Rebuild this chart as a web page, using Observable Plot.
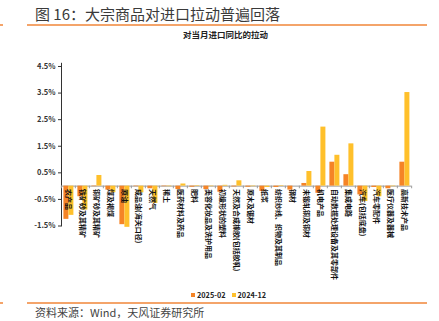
<!DOCTYPE html>
<html><head><meta charset="utf-8">
<script src="https://cdn.jsdelivr.net/npm/d3@7"></script>
<script src="https://cdn.jsdelivr.net/npm/@observablehq/plot@0.6"></script>
<style>
body{margin:0;background:#fff;}
#wrap{position:relative;width:439px;height:321px;overflow:hidden;font-family:"Noto Sans CJK SC","Noto Sans",sans-serif;}
#wrap svg{position:absolute;left:0;top:0;}
.title{position:absolute;left:35px;top:4px;font-size:15px;color:#3a3a3a;line-height:19px;white-space:nowrap;}
.rule{position:absolute;height:2px;background:#F4A46A;}
.sub{position:absolute;left:125.6px;width:200px;top:28px;text-align:center;font-size:8.5px;font-weight:bold;color:#222;line-height:12px;white-space:nowrap;}
.legend{position:absolute;left:191px;top:289px;font-size:7.3px;font-weight:bold;color:#222;line-height:12px;white-space:nowrap;}
.legend i{display:inline-block;width:4px;height:4px;margin-right:2px;vertical-align:1px;}
.legend span{margin-right:6px;}
.source{position:absolute;left:35px;top:305px;font-size:11px;color:#444;line-height:15px;white-space:nowrap;}
</style>
</head><body>
<div id="wrap">
  <div class="title">图 16：大宗商品对进口拉动普遍回落</div>
  <div class="rule" style="left:0;width:3px;top:24px;"></div>
  <div class="rule" style="left:27px;width:400px;top:24px;"></div>
  <div class="sub">对当月进口同比的拉动</div>
  <div class="legend" id="legend"></div>
  <div class="rule" style="left:0;width:3px;top:302px;"></div>
  <div class="rule" style="left:27px;width:400px;top:302px;"></div>
  <div class="source">资料来源：Wind，天风证券研究所</div>
</div>
<script>
const categories = ["农产品","铁矿砂及其精矿","铜矿砂及其精矿","煤及褐煤","原油","成品油(海关口径)","天然气","稀土","医药材料及药品","肥料","美容化妆品及洗护用品","初级形状的塑料","天然及合成橡胶(包括胶乳)","原木及锯材","纸浆","纺织纱线、织物及其制品","钢材","未锻轧铜及铜材","机电产品","自动数据处理设备及其零部件","集成电路","汽车(包括底盘)","汽车零配件","医疗仪器及器械","高新技术产品"];
const seriesNames = ["2025-02","2024-12"];
const seriesColors = ["#F58426","#FFC02B"];
const v2502 = [-1.25,-0.4,-0.02,-0.15,-1.45,-0.02,-0.1,-0.02,-0.13,-0.04,-0.13,-0.23,-0.03,-0.04,-0.2,-0.05,-0.15,0.1,-0.27,0.9,0.43,-0.33,-0.05,-0.1,0.9];
const v2412 = [-1.1,-0.9,0.4,-0.25,-1.55,-0.25,-0.65,-0.02,0.08,0.02,-0.02,0.03,0.2,-0.02,-0.05,0.02,0.0,0.55,2.22,1.16,1.59,-0.58,-0.4,-0.02,3.52];
const yTicks = [-1.5,-0.5,0.5,1.5,2.5,3.5,4.5];

const data = categories.flatMap((c,i)=>[
  {cat:c, series:seriesNames[0], value:v2502[i]},
  {cat:c, series:seriesNames[1], value:v2412[i]}
]);

const chart = Plot.plot({
  width: 439, height: 321,
  marginLeft: 57.6, marginRight: 23.8, marginTop: 62.8, marginBottom: 95.5,
  style: {fontFamily: '"Noto Sans CJK SC","Noto Sans",sans-serif', background: "transparent", overflow: "visible", fontSize: "7.5px", fontWeight: "bold", color: "#333"},
  fx: {domain: categories, padding: 0, axis: null},
  x: {domain: seriesNames, paddingInner: 0, paddingOuter: 0.28, axis: null},
  y: {domain: [-1.5, 4.62], ticks: yTicks, tickFormat: d => d.toFixed(1) + "%", label: null, tickSize: 3, tickPadding: 3, line: true},
  color: {domain: seriesNames, range: seriesColors},
  marks: [
    Plot.ruleY([0], {stroke: "#9a9a9a", strokeWidth: 1}),
    Plot.barY(data, {fx: "cat", x: "series", y: "value", fill: "series"}),
    Plot.ruleX(categories, {fx: d => d, x: null, y1: 0, y2: -0.1, dx: -7.15, stroke: "#9a9a9a"}),
    Plot.ruleX([categories[categories.length-1]], {fx: d => d, x: null, y1: 0, y2: -0.1, dx: 7.15, stroke: "#9a9a9a"}),
    Plot.text(categories, {fx: d => d, y: 0, text: d => d, rotate: 90, textAnchor: "start", dy: 3, fontSize: 7, fontWeight: "bold", fill: "#111"})
  ]
});
document.getElementById("wrap").appendChild(chart);

const lg = document.getElementById("legend");
seriesNames.forEach((s,i)=>{
  const sp = document.createElement("span");
  const sw = document.createElement("i");
  sw.style.background = seriesColors[i];
  sp.appendChild(sw);
  sp.appendChild(document.createTextNode(s));
  lg.appendChild(sp);
});
</script>
</body></html>
